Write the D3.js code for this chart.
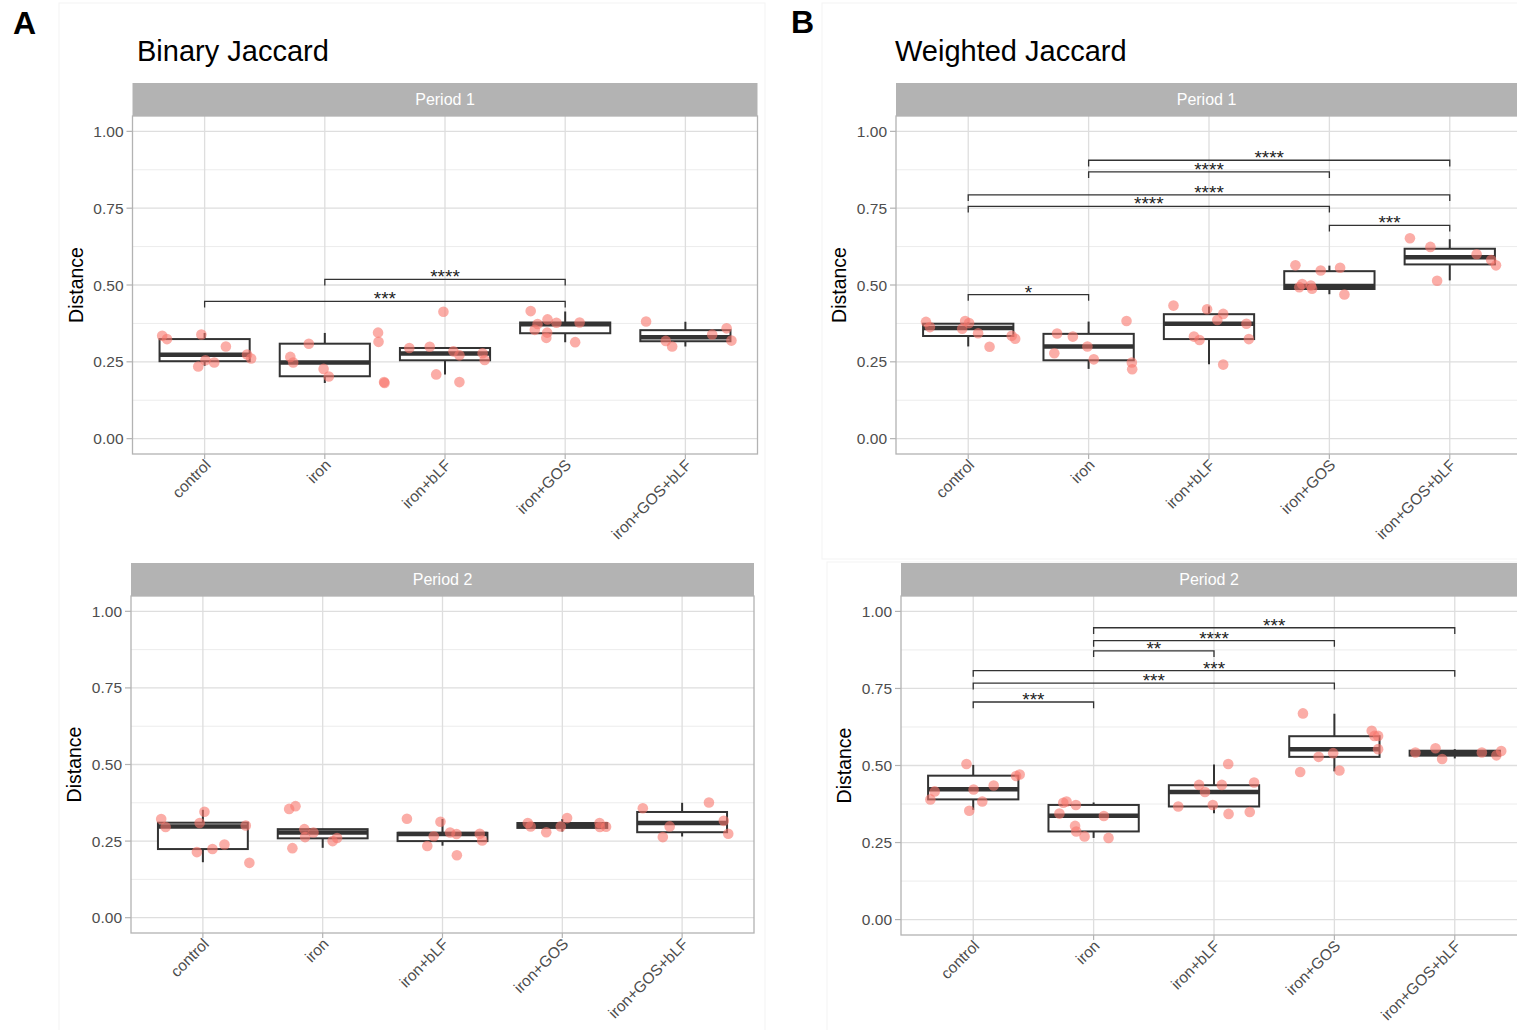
<!DOCTYPE html>
<html>
<head>
<meta charset="utf-8">
<script src="https://cdn.jsdelivr.net/npm/d3@7"></script>
<style>
  body { margin: 0; background: #fff; }
  svg { display: block; font-family: "Liberation Sans", Arial, sans-serif; }
</style>
</head>
<body>
<div id="graphicContainer"></div>
<script>
// categories + axis ticks
var groups = ["control", "iron", "iron+bLF", "iron+GOS", "iron+GOS+bLF"];
var yTicks = [0, 0.25, 0.5, 0.75, 1];
var yMinor = [0.125, 0.375, 0.625, 0.875];

// box stats per group: [whisker low, q1, median, q3, whisker high]
var binaryP1Box = [
  [0.237, 0.252, 0.273, 0.324, 0.344],
  [0.181, 0.203, 0.248, 0.309, 0.344],
  [0.209, 0.255, 0.277, 0.295, 0.298],
  [0.314, 0.343, 0.372, 0.378, 0.414],
  [0.300, 0.317, 0.330, 0.353, 0.380]
];
var binaryP2Box = [
  [0.181, 0.224, 0.298, 0.310, 0.352],
  [0.228, 0.259, 0.278, 0.289, 0.290],
  [0.235, 0.250, 0.273, 0.277, 0.322],
  [0.281, 0.293, 0.301, 0.309, 0.322],
  [0.265, 0.279, 0.309, 0.345, 0.375]
];
var weightedP1Box = [
  [0.300, 0.334, 0.360, 0.374, 0.378],
  [0.227, 0.255, 0.300, 0.341, 0.381],
  [0.242, 0.324, 0.374, 0.405, 0.430],
  [0.470, 0.487, 0.497, 0.545, 0.563],
  [0.515, 0.567, 0.590, 0.618, 0.649]
];
var weightedP2Box = [
  [0.356, 0.390, 0.423, 0.467, 0.502],
  [0.265, 0.286, 0.337, 0.372, 0.380],
  [0.345, 0.367, 0.414, 0.436, 0.503],
  [0.481, 0.528, 0.553, 0.595, 0.668],
  [0.523, 0.532, 0.540, 0.548, 0.553]
];

// jittered samples: [group index, jitter (fraction of step), distance]
var binaryP1Pts = [
  [0,-0.353,0.335],[0,-0.313,0.324],[0,-0.027,0.339],[0,0.177,0.300],[0,0.353,0.274],[0,0.387,0.261],[0,0.007,0.255],[0,0.080,0.248],[0,-0.053,0.235],
  [1,-0.133,0.309],[1,0.443,0.345],[1,0.447,0.315],[1,-0.287,0.266],[1,-0.263,0.248],[1,-0.010,0.227],[1,0.033,0.202],[1,0.493,0.184],[1,0.497,0.181],
  [2,-0.013,0.413],[2,-0.297,0.295],[2,-0.127,0.299],[2,0.070,0.284],[2,0.120,0.271],[2,0.313,0.278],[2,0.330,0.256],[2,-0.073,0.209],[2,0.120,0.184],
  [3,-0.287,0.415],[3,-0.147,0.388],[3,-0.073,0.377],[3,-0.230,0.373],[3,0.120,0.378],[3,-0.253,0.354],[3,-0.150,0.345],[3,-0.157,0.328],[3,0.083,0.314],
  [4,-0.327,0.381],[4,0.343,0.359],[4,0.223,0.339],[4,0.383,0.319],[4,-0.163,0.318],[4,-0.110,0.300]
];
var binaryP2Pts = [
  [0,-0.348,0.322],[0,-0.311,0.296],[0,0.013,0.346],[0,-0.027,0.309],[0,0.358,0.301],[0,0.180,0.239],[0,0.080,0.224],[0,-0.050,0.214],[0,0.388,0.179],
  [1,-0.280,0.355],[1,-0.227,0.364],[1,-0.153,0.289],[1,-0.077,0.278],[1,-0.147,0.263],[1,0.120,0.260],[1,0.083,0.250],[1,-0.253,0.227],
  [2,-0.297,0.323],[2,-0.017,0.313],[2,0.063,0.278],[2,0.117,0.273],[2,-0.073,0.266],[2,0.311,0.274],[2,0.331,0.252],[2,-0.127,0.234],[2,0.120,0.204],
  [3,-0.288,0.309],[3,-0.264,0.298],[3,-0.134,0.279],[3,-0.013,0.298],[3,0.040,0.325],[3,0.311,0.309],[3,0.314,0.296],[3,0.365,0.297],
  [4,-0.328,0.357],[4,0.224,0.376],[4,0.348,0.316],[4,-0.104,0.298],[4,0.385,0.274],[4,-0.161,0.263]
];
var weightedP1Pts = [
  [0,-0.351,0.380],[0,-0.318,0.363],[0,-0.026,0.383],[0,0.007,0.376],[0,-0.050,0.358],[0,0.082,0.343],[0,0.361,0.335],[0,0.390,0.325],[0,0.177,0.299],
  [1,0.315,0.383],[1,-0.262,0.342],[1,-0.131,0.332],[1,-0.010,0.300],[1,-0.285,0.278],[1,0.043,0.258],[1,0.359,0.248],[1,0.362,0.226],
  [2,-0.295,0.433],[2,-0.016,0.421],[2,0.118,0.406],[2,0.069,0.386],[2,0.311,0.374],[2,-0.125,0.332],[2,-0.079,0.321],[2,0.331,0.324],[2,0.118,0.241],
  [3,-0.282,0.564],[3,0.089,0.556],[3,-0.072,0.547],[3,-0.226,0.503],[3,-0.154,0.498],[3,-0.250,0.493],[3,-0.144,0.488],[3,0.125,0.469],
  [4,-0.331,0.652],[4,-0.161,0.624],[4,0.223,0.600],[4,0.344,0.581],[4,0.384,0.564],[4,-0.105,0.514]
];
var weightedP2Pts = [
  [0,-0.056,0.505],[0,0.386,0.471],[0,0.356,0.466],[0,0.170,0.435],[0,0.003,0.422],[0,-0.320,0.416],[0,-0.356,0.390],[0,0.075,0.383],[0,-0.033,0.353],
  [1,-0.252,0.379],[1,-0.225,0.383],[1,-0.147,0.372],[1,-0.284,0.344],[1,0.085,0.336],[1,-0.154,0.304],[1,-0.144,0.286],[1,-0.075,0.270],[1,0.124,0.265],
  [2,0.118,0.505],[2,-0.124,0.437],[2,0.065,0.437],[2,0.333,0.445],[2,-0.075,0.414],[2,-0.297,0.367],[2,-0.010,0.372],[2,0.121,0.343],[2,0.297,0.349],
  [3,-0.261,0.669],[3,0.310,0.613],[3,0.333,0.596],[3,0.363,0.596],[3,0.363,0.553],[3,-0.010,0.540],[3,-0.131,0.528],[3,-0.284,0.479],[3,0.042,0.484],
  [4,-0.327,0.542],[4,-0.160,0.556],[4,-0.105,0.521],[4,0.225,0.542],[4,0.346,0.533],[4,0.386,0.547]
];

// significance brackets: [from, to, height, label]
var binaryP1Sig = [[0, 3, 0.447, "***"], [1, 3, 0.518, "****"]];
var binaryP2Sig = [];
var weightedP1Sig = [
  [0, 1, 0.469, "*"], [3, 4, 0.694, "***"], [0, 3, 0.756, "****"],
  [0, 4, 0.793, "****"], [1, 3, 0.868, "****"], [1, 4, 0.906, "****"]
];
var weightedP2Sig = [
  [0, 1, 0.706, "***"], [0, 3, 0.767, "***"], [0, 4, 0.808, "***"],
  [1, 2, 0.872, "**"], [1, 3, 0.905, "****"], [1, 4, 0.947, "***"]
];

var W = 1517, H = 1030;
var svg = d3.select("#graphicContainer").append("svg")
    .attr("width", W).attr("height", H);

// faint frames of the two pasted figures
svg.append("rect").attr("x", 59).attr("y", 3).attr("width", 706).attr("height", 1030)
    .attr("fill", "none").attr("stroke", "#f3f3f3");
svg.append("rect").attr("x", 822).attr("y", 3).attr("width", 700).attr("height", 556)
    .attr("fill", "none").attr("stroke", "#f3f3f3");
svg.append("rect").attr("x", 827).attr("y", 562).attr("width", 700).attr("height", 470)
    .attr("fill", "none").attr("stroke", "#f3f3f3");

function letter(txt, x, y) {
  svg.append("text").attr("x", x).attr("y", y).text(txt)
    .attr("font-size", 32).attr("font-weight", "bold").attr("fill", "#000");
}
function title(txt, x, y) {
  svg.append("text").attr("x", x).attr("y", y).text(txt)
    .attr("font-size", 29).attr("fill", "#000");
}

letter("A", 13, 34);
letter("B", 791, 33);
title("Binary Jaccard", 137, 61);
title("Weighted Jaccard", 895, 61);

function makePanel(p) {
  var g = svg.append("g");

  var x = d3.scalePoint().domain(groups).range([p.left, p.right]).padding(0.6);
  var y = d3.scaleLinear().domain([-0.05, 1.05]).range([p.bottom, p.top]);
  var step = x.step();

  // clip (B panels run off the right edge)
  var clipId = "clip" + p.id;
  svg.append("clipPath").attr("id", clipId).append("rect")
    .attr("x", p.left).attr("y", p.top).attr("width", p.right - p.left).attr("height", p.bottom - p.top);

  // strip
  g.append("rect").attr("x", p.left).attr("y", p.top - 33)
    .attr("width", p.right - p.left).attr("height", 33).attr("fill", "#b3b3b3");
  g.append("text").attr("x", Math.min((p.left + p.right) / 2, (p.left + W) / 2))
    .attr("y", p.top - 11).attr("text-anchor", "middle")
    .attr("font-size", 16).attr("fill", "#fff").text(p.strip);

  var body = g.append("g").attr("clip-path", "url(#" + clipId + ")");

  // grid
  body.selectAll(".minor").data(yMinor).enter().append("line")
    .attr("x1", p.left).attr("x2", p.right)
    .attr("y1", d => y(d)).attr("y2", d => y(d))
    .attr("stroke", "#ececec").attr("stroke-width", 1);
  body.selectAll(".major").data(yTicks).enter().append("line")
    .attr("x1", p.left).attr("x2", p.right)
    .attr("y1", d => y(d)).attr("y2", d => y(d))
    .attr("stroke", "#dedede").attr("stroke-width", 1.3);
  body.selectAll(".vgrid").data(groups).enter().append("line")
    .attr("x1", d => x(d)).attr("x2", d => x(d))
    .attr("y1", p.top).attr("y2", p.bottom)
    .attr("stroke", "#dedede").attr("stroke-width", 1.3);

  // boxes
  var bw = step * 0.75;
  var boxes = body.selectAll(".box").data(p.box).enter().append("g");
  boxes.append("line")
    .attr("x1", (d, i) => x(groups[i])).attr("x2", (d, i) => x(groups[i]))
    .attr("y1", d => y(d[0])).attr("y2", d => y(d[1]))
    .attr("stroke", "#333").attr("stroke-width", 2);
  boxes.append("line")
    .attr("x1", (d, i) => x(groups[i])).attr("x2", (d, i) => x(groups[i]))
    .attr("y1", d => y(d[3])).attr("y2", d => y(d[4]))
    .attr("stroke", "#333").attr("stroke-width", 2);
  boxes.append("rect")
    .attr("x", (d, i) => x(groups[i]) - bw / 2).attr("width", bw)
    .attr("y", d => y(d[3])).attr("height", d => Math.max(0.5, y(d[1]) - y(d[3])))
    .attr("fill", "#fff").attr("stroke", "#333").attr("stroke-width", 2);
  boxes.append("line")
    .attr("x1", (d, i) => x(groups[i]) - bw / 2).attr("x2", (d, i) => x(groups[i]) + bw / 2)
    .attr("y1", d => y(d[2])).attr("y2", d => y(d[2]))
    .attr("stroke", "#333").attr("stroke-width", 4.5);

  // points
  body.selectAll(".pt").data(p.pts).enter().append("circle")
    .attr("cx", d => x(groups[d[0]]) + d[1] * step)
    .attr("cy", d => y(d[2]))
    .attr("r", 5.3)
    .attr("fill", "#F8766D").attr("fill-opacity", 0.6);

  // significance brackets
  var tip = 0.02;
  var sig = body.selectAll(".sig").data(p.sig).enter().append("g");
  sig.append("path")
    .attr("d", d => {
      var x1 = x(groups[d[0]]), x2 = x(groups[d[1]]);
      return "M" + x1 + "," + y(d[2] - tip) + "V" + y(d[2]) + "H" + x2 + "V" + y(d[2] - tip);
    })
    .attr("fill", "none").attr("stroke", "#333").attr("stroke-width", 1.3);
  sig.append("text")
    .attr("x", d => (x(groups[d[0]]) + x(groups[d[1]])) / 2)
    .attr("y", d => y(d[2]) + 4)
    .attr("text-anchor", "middle").attr("font-size", 19).attr("fill", "#222")
    .text(d => d[3]);

  // panel border
  g.append("rect").attr("x", p.left).attr("y", p.top)
    .attr("width", p.right - p.left).attr("height", p.bottom - p.top)
    .attr("fill", "none").attr("stroke", "#b3b3b3").attr("stroke-width", 1.3);

  // y axis
  var ya = g.append("g");
  ya.selectAll(".yt").data(yTicks).enter().append("line")
    .attr("x1", p.left - 6).attr("x2", p.left)
    .attr("y1", d => y(d)).attr("y2", d => y(d))
    .attr("stroke", "#b3b3b3").attr("stroke-width", 1.2);
  ya.selectAll(".yl").data(yTicks).enter().append("text")
    .attr("x", p.left - 9).attr("y", d => y(d) + 5.5)
    .attr("text-anchor", "end").attr("font-size", 15.5).attr("fill", "#4d4d4d")
    .text(d3.format(".2f"));
  g.append("text")
    .attr("transform", "translate(" + (p.left - 50) + "," + ((p.top + p.bottom) / 2) + ") rotate(-90)")
    .attr("text-anchor", "middle").attr("font-size", 19.5).attr("fill", "#000")
    .text("Distance");

  // x axis
  var xa = g.append("g");
  xa.selectAll(".xt").data(groups).enter().append("line")
    .attr("x1", d => x(d)).attr("x2", d => x(d))
    .attr("y1", p.bottom).attr("y2", p.bottom + 5)
    .attr("stroke", "#b3b3b3").attr("stroke-width", 1.2);
  xa.selectAll(".xl").data(groups).enter().append("text")
    .attr("transform", d => "translate(" + (x(d) + 7) + "," + (p.bottom + 12) + ") rotate(-45)")
    .attr("text-anchor", "end").attr("font-size", 15.5).attr("fill", "#4d4d4d")
    .text(d => d);
}

makePanel({ id: "a1", left: 132.5, right: 757.5, top: 116, bottom: 454, strip: "Period 1", box: binaryP1Box, pts: binaryP1Pts, sig: binaryP1Sig });
makePanel({ id: "a2", left: 131, right: 754, top: 596, bottom: 933, strip: "Period 2", box: binaryP2Box, pts: binaryP2Pts, sig: binaryP2Sig });
makePanel({ id: "b1", left: 896, right: 1522, top: 116, bottom: 454, strip: "Period 1", box: weightedP1Box, pts: weightedP1Pts, sig: weightedP1Sig });
makePanel({ id: "b2", left: 901, right: 1527, top: 596, bottom: 935, strip: "Period 2", box: weightedP2Box, pts: weightedP2Pts, sig: weightedP2Sig });
</script>
</body>
</html>
